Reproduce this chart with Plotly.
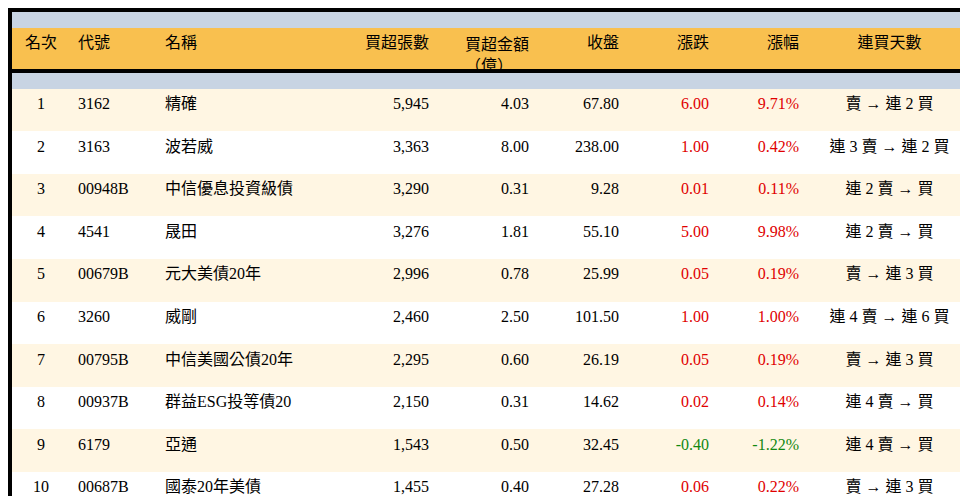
import plotly.graph_objects as go

ranks = [str(i) for i in range(1, 11)]
codes = ["3162", "3163", "00948B", "4541", "00679B", "3260", "00795B", "00937B", "6179", "00687B"]
names = ["精確", "波若威", "中信優息投資級債", "晟田", "元大美債20年", "威剛", "中信美國公債20年",
         "群益ESG投等債20", "亞通", "國泰20年美債"]
net_lots = [5945, 3363, 3290, 3276, 2996, 2460, 2295, 2150, 1543, 1455]
net_amount = [4.03, 8.00, 0.31, 1.81, 0.78, 2.50, 0.60, 0.31, 0.50, 0.40]
close = [67.80, 238.00, 9.28, 55.10, 25.99, 101.50, 26.19, 14.62, 32.45, 27.28]
change = [6.00, 1.00, 0.01, 5.00, 0.05, 1.00, 0.05, 0.02, -0.40, 0.06]
change_pct = [9.71, 0.42, 0.11, 9.98, 0.19, 1.00, 0.19, 0.14, -1.22, 0.22]
streak = ["賣 → 連 2 買", "連 3 賣 → 連 2 買", "連 2 賣 → 買", "連 2 賣 → 買", "賣 → 連 3 買",
          "連 4 賣 → 連 6 買", "賣 → 連 3 買", "連 4 賣 → 買", "連 4 賣 → 買", "賣 → 連 3 買"]
headers = ["名次", "代號", "名稱", "買超張數", "買超金額<br>（億）", "收盤", "漲跌", "漲幅", "連買天數"]

def col_color(v):
    return "#e00000" if v > 0 else ("#118811" if v < 0 else "#000000")

chg_colors = [col_color(v) for v in change]
row_fill = ["#fff6e3" if i % 2 == 0 else "#ffffff" for i in range(len(ranks))]
black = ["#000000"] * len(ranks)

font_family = "Liberation Serif, Noto Sans CJK TC, serif"
widths = [58, 87, 185, 95, 100, 90, 90, 90, 165]
align = ["center", "left", "left", "right", "right", "right", "right", "right", "center"]
orange = "#f9c04f"

inner_h = 488
head_h = 58
gap = 3

# header as a separate table (header row only)
head_vals = [[h if "<br>" in h else "<br>" + h] for h in headers]
head_vals = [[h if "<br>" in h else h] for h in headers]
fig = go.Figure()
fig.add_trace(go.Table(
    columnwidth=widths,
    header=dict(values=[], height=0, line_width=0),
    cells=dict(
        values=head_vals,
        fill_color=orange,
        line_color=orange,
        align=align,
        font=dict(family=font_family, size=16, color="#000000"),
        height=head_h,
    ),
    domain=dict(x=[0, 1], y=[(inner_h - head_h) / inner_h, 1]),
))

fig.add_trace(go.Table(
    columnwidth=widths,
    header=dict(values=[], height=0, line_width=0),
    cells=dict(
        values=[ranks, codes, names,
                [f"{v:,}" for v in net_lots],
                [f"{v:.2f}" for v in net_amount],
                [f"{v:.2f}" for v in close],
                [f"{v:.2f}" for v in change],
                [f"{v:.2f}%" for v in change_pct],
                streak],
        fill_color=[row_fill] * 9,
        line_color=[row_fill] * 9,
        align=align,
        font=dict(family=font_family, size=16,
                  color=[black, black, black, black, black, black, chg_colors, chg_colors, black]),
        height=42.6,
    ),
    domain=dict(x=[0, 1], y=[0, (inner_h - head_h - gap) / inner_h]),
))

fig.update_layout(
    width=968, height=496,
    margin=dict(l=4, r=4, t=4, b=4),
    paper_bgcolor="#000000",
)

fig.write_html("out.html")
